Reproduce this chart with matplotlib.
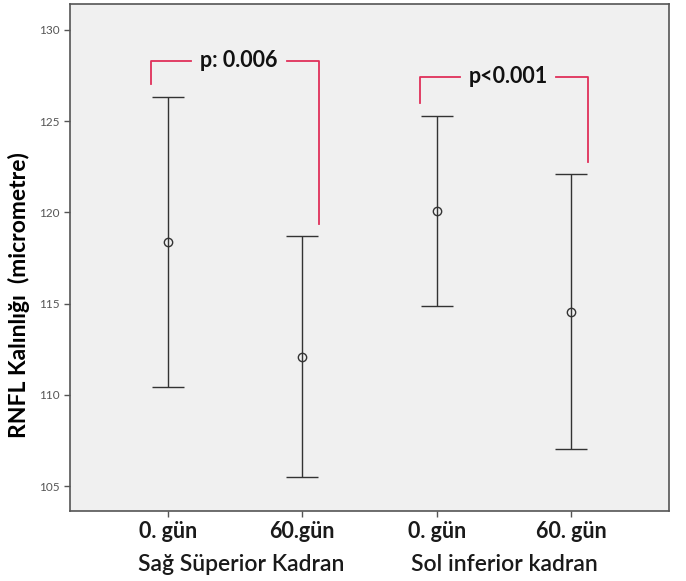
import matplotlib
matplotlib.use('Agg')
import matplotlib.pyplot as plt
import matplotlib.transforms as mtransforms

# values (mean and 95% CI limits)
labels = ['0. gün', '60.gün', '0. gün', '60. gün']
means = [118.37, 112.10, 120.08, 114.53]
lower = [110.42, 105.49, 114.89, 107.02]
upper = [126.35, 118.73, 125.30, 122.09]
groups = ['Sağ Süperior Kadran', 'Sol inferior kadran']
p_texts = ['p: 0.006', 'p<0.001']
bracket_tops = [128.3, 127.4]

plt.rcParams['font.family'] = ['Lato', 'DejaVu Sans']

fig = plt.figure(figsize=(6.86, 5.81), dpi=100)
ax = fig.add_axes([70/686, 70/581, 599/686, 507/581])
ax.set_facecolor('#f0f0f0')

x = [1, 2, 3, 4]
yerr = [[m - l for m, l in zip(means, lower)], [u - m for m, u in zip(means, upper)]]
ax.errorbar(x, means, yerr=yerr, fmt='o', color='#333333', mfc='none', mec='#333333',
            ms=6, mew=1.0, elinewidth=1.0, capsize=11.5, capthick=1.0)

ax.set_xlim(0.274, 4.727)
ax.set_ylim(103.64, 131.42)
ax.set_yticks([105, 110, 115, 120, 125, 130])
ax.tick_params(axis='y', labelsize=8.5, labelcolor='#555555', color='#555555', length=4, width=1)
ax.set_xticks(x)
ax.set_xticklabels(labels, fontsize=15.5, fontweight='bold', color='#1a1a1a')
ax.tick_params(axis='x', color='#555555', length=4, width=1, pad=3)
for s in ax.spines.values():
    s.set_color('#555555')
    s.set_linewidth(1.2)

ax.set_ylabel('RNFL Kalınlığı  (micrometre)', fontsize=16.5, fontweight='bold')
ax.yaxis.set_label_coords(-0.066, 0.426)

# group labels under the tick labels
trans = mtransforms.blended_transform_factory(ax.transData, ax.transAxes)
for i, g in enumerate(groups):
    ax.text(x[2 * i] + 0.5 + 0.05 * (1 - i), -0.105, g, transform=trans, ha='center',
            va='center', fontsize=16.5, fontweight='semibold', color='#1a1a1a')

# significance brackets
red = '#e0305a'
for i in range(2):
    a, b = 2 * i, 2 * i + 1
    top = bracket_tops[i]
    xl, xr = x[a] - 0.125, x[b] + 0.125
    xm = (x[a] + x[b]) / 2 + 0.03
    ax.plot([xl, xl, xm - 0.36], [upper[a] + 0.7, top, top], color=red, lw=1.3)
    ax.plot([xm + 0.36, xr, xr], [top, top, upper[b] + 0.65], color=red, lw=1.3)
    ax.text(xm, top + 0.05, p_texts[i], ha='center', va='center', fontsize=15.5,
            fontweight='bold', color='#111111')

fig.savefig('out.png', dpi=100)
